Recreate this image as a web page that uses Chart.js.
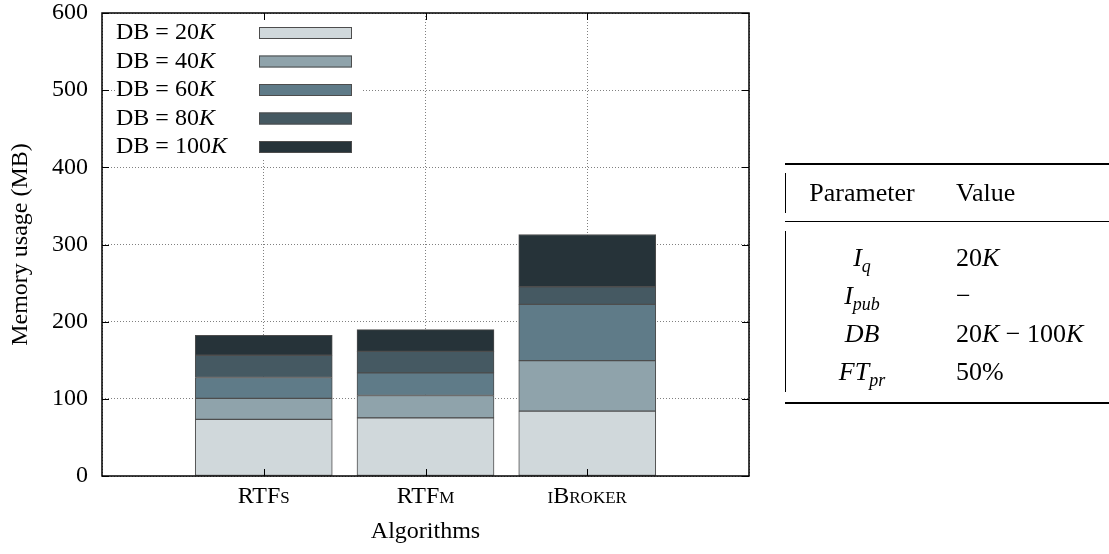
<!DOCTYPE html>
<html>
<head>
<meta charset="utf-8">
<title>Memory usage</title>
<script src="https://cdn.jsdelivr.net/npm/chart.js@4"></script>
<style>
  html, body { margin: 0; padding: 0; background: #fff; overflow: hidden; }
  #wrap { position: relative; width: 1109px; height: 554px; }
  #chart { position: absolute; left: 0; top: 0; }
  .params {
    position: absolute; left: 785px; top: 163px;
    width: 340px; table-layout: fixed;
    border-collapse: collapse;
    font-family: 'Liberation Serif', serif; font-size: 26px; color: #000;
    border-top: 2px solid #000; border-bottom: 2px solid #000;
  }
  .params th { font-weight: normal; height: 56px; padding: 0; }
  .params thead tr { border-bottom: 1px solid #000; }
  .params td { height: 38px; padding: 0; }
  .params .c1 { width: 154px; text-align: center; }
  .params .c2 { text-align: left; padding-left: 17px; }
  .params tr.gap td { height: 0; }
  .params sub { font-size: 18px; font-style: italic; vertical-align: -6px; line-height: 0; }
  .vrule { position: absolute; left: 785px; width: 1px; background: #000; }
</style>
</head>
<body>
<div id="wrap">
  <canvas id="chart" width="1109" height="554"></canvas>
  <table class="params">
    <thead>
      <tr><th class="c1">Parameter</th><th class="c2">Value</th></tr>
    </thead>
    <tbody>
      <tr class="gap"><td colspan="2" style="height:17px"></td></tr>
      <tr><td class="c1"><i>I</i><sub>q</sub></td><td class="c2">20<i>K</i></td></tr>
      <tr><td class="c1"><i>I</i><sub>pub</sub></td><td class="c2">&minus;</td></tr>
      <tr><td class="c1"><i>DB</i></td><td class="c2">20<i>K</i> &minus; 100<i>K</i></td></tr>
      <tr><td class="c1"><i>FT</i><sub>pr</sub></td><td class="c2">50%</td></tr>
      <tr class="gap"><td colspan="2" style="height:11px"></td></tr>
    </tbody>
  </table>
  <div class="vrule" style="top:173px;height:40px"></div>
  <div class="vrule" style="top:231px;height:161px"></div>
</div>
<script>
const categories = ['RTFs', 'RTFm', 'iBroker'];
const seriesLabels = ['DB = 20K', 'DB = 40K', 'DB = 60K', 'DB = 80K', 'DB = 100K'];

// memory (MB) added by each database size, stacked bottom to top
const db20k = [73.3, 75.4, 84.1];
const db40k = [27.2, 28.9, 65.5];
const db60k = [27.1, 29.3, 72.8];
const db80k = [28.9, 28.0, 22.9];
const db100k = [25.8, 28.1, 67.7];

const yTicks = [0, 100, 200, 300, 400, 500, 600];

const fills = ['#d0d8db', '#8fa3ab', '#5f7b88', '#455962', '#263339'];
const serif = "'Liberation Serif', 'Times New Roman', serif";

// one empty slot on each side so the bars sit at 1/4, 2/4, 3/4 of the width
const xLabels = ['', ...categories, ''];

const datasets = [db20k, db40k, db60k, db80k, db100k].map((vals, i) => ({
    label: seriesLabels[i],
    data: [null, ...vals, null],
    backgroundColor: fills[i],
    borderColor: '#4d4d4d',
    borderWidth: 1,
    borderSkipped: false,
    barThickness: 137
}));

// key drawn inside the plot: text first, swatch to the right
const keyBox = {
    id: 'keyBox',
    afterDatasetsDraw(chart) {
        const { ctx, chartArea: a } = chart;
        ctx.save();
        ctx.fillStyle = '#fff';
        ctx.fillRect(a.left + 13, a.top + 1, 248, 146);
        ctx.textBaseline = 'middle';
        ctx.textAlign = 'left';
        chart.data.datasets.forEach((ds, i) => {
            const cy = a.top + 20 + i * 28.5;
            const head = ds.label.slice(0, -1);
            ctx.fillStyle = '#000';
            ctx.font = '24px ' + serif;
            ctx.fillText(head, a.left + 14, cy);
            const w = ctx.measureText(head).width;
            ctx.font = 'italic 24px ' + serif;
            ctx.fillText(ds.label.slice(-1), a.left + 14 + w, cy);
            ctx.fillStyle = ds.backgroundColor;
            ctx.fillRect(a.left + 157, cy - 6, 93, 12);
            ctx.strokeStyle = ds.borderColor;
            ctx.lineWidth = 1;
            ctx.strokeRect(a.left + 157.5, cy - 5.5, 92, 11);
        });
        ctx.restore();
    }
};

// black frame with inward tick marks on all four sides
const frame = {
    id: 'frame',
    afterDraw(chart) {
        const { ctx, chartArea: a, scales: { x, y } } = chart;
        ctx.save();
        ctx.strokeStyle = '#000';
        ctx.lineWidth = 1;
        ctx.beginPath();
        y.ticks.forEach(t => {
            const py = Math.round(y.getPixelForValue(t.value)) + 0.5;
            ctx.moveTo(a.left, py); ctx.lineTo(a.left + 7, py);
            ctx.moveTo(a.right, py); ctx.lineTo(a.right - 7, py);
        });
        categories.forEach((c, i) => {
            const px = Math.round(x.getPixelForValue(i + 1)) + 0.5;
            ctx.moveTo(px, a.bottom); ctx.lineTo(px, a.bottom - 7);
            ctx.moveTo(px, a.top); ctx.lineTo(px, a.top + 7);
        });
        ctx.stroke();
        ctx.lineWidth = 1.5;
        ctx.strokeRect(a.left, a.top, a.right - a.left, a.bottom - a.top);
        ctx.restore();
    }
};

new Chart('chart', {
    type: 'bar',
    data: { labels: xLabels, datasets: datasets },
    options: {
        responsive: false,
        animation: false,
        devicePixelRatio: 1,
        layout: { padding: { top: 13, right: 360, bottom: 0, left: 0 } },
        plugins: {
            legend: { display: false },
            tooltip: { enabled: false }
        },
        scales: {
            x: {
                stacked: true,
                offset: false,
                grid: { color: '#808080', lineWidth: 1, drawTicks: false, offset: false },
                border: { display: false, dash: [1, 2] },
                ticks: {
                    color: '#000',
                    padding: 6,
                    maxRotation: 0,
                    autoSkip: false,
                    font: { family: serif, size: 24, weight: 'small-caps' }
                },
                title: {
                    display: true,
                    text: 'Algorithms',
                    color: '#000',
                    font: { family: serif, size: 24 },
                    padding: { top: 0, bottom: 8 }
                },
                afterFit: s => { s.height = 78; s.paddingLeft = 0; s.paddingRight = 0; }
            },
            y: {
                stacked: true,
                min: 0,
                max: 600,
                grid: { color: '#808080', lineWidth: 1, drawTicks: false },
                border: { display: false, dash: [1, 2] },
                ticks: {
                    color: '#000',
                    padding: 14,
                    font: { family: serif, size: 24, lineHeight: 1 }
                },
                afterBuildTicks: s => { s.ticks = yTicks.map(v => ({ value: v })); },
                title: {
                    display: true,
                    text: 'Memory usage (MB)',
                    color: '#000',
                    font: { family: serif, size: 24 },
                    padding: { top: 6, bottom: 0 }
                },
                afterFit: s => { s.width = 102; s.paddingTop = 0; s.paddingBottom = 0; }
            }
        }
    },
    plugins: [keyBox, frame]
});
</script>
</body>
</html>
